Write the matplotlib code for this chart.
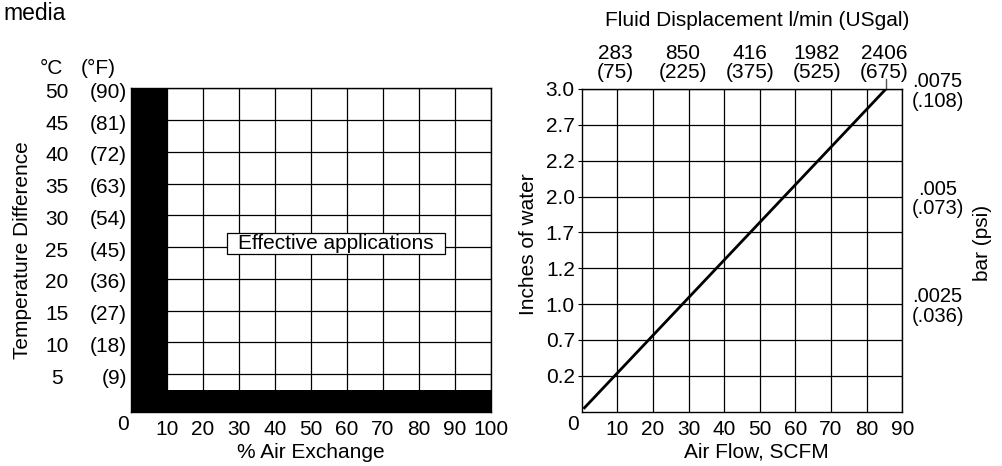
import matplotlib
matplotlib.use("Agg")
import matplotlib.pyplot as plt
from matplotlib.transforms import blended_transform_factory, offset_copy, IdentityTransform
from matplotlib.patches import Rectangle

plt.rcParams['font.family'] = ['Liberation Sans', 'DejaVu Sans']
FS = 15

# ---------------- Left chart data ----------------
air_exchange_ticks = [10, 20, 30, 40, 50, 60, 70, 80, 90, 100]
temp_c = [50, 45, 40, 35, 30, 25, 20, 15, 10, 5]
temp_f = [90, 81, 72, 63, 54, 45, 36, 27, 18, 9]
ineffective_x = 10      # % air exchange below which not effective
ineffective_dt = 2.5    # deg C difference below which not effective
effective_label_pos = (57, 25.5)

# ---------------- Right chart data ----------------
airflow_ticks = [10, 20, 30, 40, 50, 60, 70, 80, 90]
pressure_in_labels = ["0.2", "0.7", "1.0", "1.2", "1.7", "2.0", "2.2", "2.7", "3.0"]
line_airflow = [0.5, 85.4]
line_level = [0.08, 9.0]          # row position on the pressure scale
disp_lpm = ["283", "850", "416", "1982", "2406"]
disp_gal = [75, 225, 375, 525, 675]
gal_per_scfm = 7.95
bar_vals = [".0075", ".005", ".0025"]
psi_vals = [".108", ".073", ".036"]
bar_at = ["3.0", "2.0", "1.0"]

W, H = 1003, 466
fig = plt.figure(figsize=(W / 100, H / 100), dpi=100)

def px(l, t, r, b):
    return [l / W, 1 - b / H, (r - l) / W, (b - t) / H]

# ================= LEFT =================
ax = fig.add_axes(px(130.7, 88.3, 490.7, 411.7))
ax.set_xlim(0, 100)
ax.set_ylim(-0.9, 50)
ax.set_xticks(air_exchange_ticks)
ax.set_xticklabels([str(v) for v in air_exchange_ticks], fontsize=FS)
ax.set_yticks(temp_c)
ax.tick_params(axis='y', length=0, labelleft=False)
ax.tick_params(axis='x', length=0, pad=6)
ax.grid(True, color='black', linewidth=0.9)
ax.set_axisbelow(True)
for s in ax.spines.values():
    s.set_linewidth(1.0)
ax.axvspan(0, ineffective_x, color='black', zorder=2, lw=0)
ax.axhspan(-0.9, ineffective_dt, color='black', zorder=2, lw=0)

bt = blended_transform_factory(ax.transAxes, ax.transData)
bt = offset_copy(bt, fig=fig, x=0, y=-4, units='dots')
for c, f in zip(temp_c, temp_f):
    ax.text(-0.205, c, str(c), transform=bt, ha='center', va='center', fontsize=FS)
    ax.text(-0.010, c, f"({f})", transform=bt, ha='right', va='center', fontsize=FS)
fig.text(51.5 / W, 1 - 68 / H, "°C", ha='center', va='center', fontsize=FS)
fig.text(98.5 / W, 1 - 68 / H, "(°F)", ha='center', va='center', fontsize=FS)
ax.text(-0.021, -0.041, "0", transform=ax.transAxes, ha='center', va='center', fontsize=FS)

ax.set_ylabel("Temperature Difference", fontsize=FS)
ax.yaxis.set_label_coords(-0.3, 0.5)
ax.set_xlabel("% Air Exchange", fontsize=FS)
ax.xaxis.set_label_coords(0.5, -0.125)
ax.xaxis.label.set_va('center')
ax.yaxis.label.set_va('center')

eff = ax.text(*effective_label_pos, "Effective applications", ha='center', va='center',
              fontsize=FS, zorder=6)

fig.text(3 / W, 1 - 13 / H, "media", ha='left', va='center', fontsize=16.5)

# ================= RIGHT =================
ax2 = fig.add_axes(px(581.7, 89, 902.3, 411.7))
ax2.set_xlim(0, 90)
ax2.set_ylim(0, 9)
ax2.set_xticks(airflow_ticks)
ax2.set_xticklabels([str(v) for v in airflow_ticks], fontsize=FS)
ypos = list(range(1, len(pressure_in_labels) + 1))
ax2.set_yticks(ypos)
ax2.set_yticklabels(pressure_in_labels, fontsize=FS)
ax2.tick_params(axis='x', length=0, pad=6)
ax2.tick_params(axis='y', length=3, pad=2)
ax2.grid(True, color='black', linewidth=0.9)
ax2.set_axisbelow(True)
for s in ax2.spines.values():
    s.set_linewidth(1.0)
ax2.plot(line_airflow, line_level, color='black', linewidth=2.0, zorder=4,
         solid_capstyle='butt')
ax2.plot([line_airflow[-1], line_airflow[-1]], [line_level[-1], line_level[-1] + 0.28],
         color='#555555', linewidth=1.0, clip_on=False)
ax2.text(-0.027, -0.041, "0", transform=ax2.transAxes, ha='center', va='center', fontsize=FS)
ax2.set_ylabel("Inches of water", fontsize=FS)
ax2.yaxis.set_label_coords((528 - 581.7) / 320.6, 0.52)
ax2.yaxis.label.set_va('center')
ax2.set_xlabel("Air Flow, SCFM", fontsize=FS)
ax2.xaxis.set_label_coords((756 - 581.7) / 320.6, -0.125)
ax2.xaxis.label.set_va('center')

# top axis: fluid displacement
top = ax2.twiny()
top.set_xlim(0, 90 * gal_per_scfm)
top.set_xticks(disp_gal)
top.set_xticklabels([f"{l}\n({g})" for l, g in zip(disp_lpm, disp_gal)], fontsize=FS,
                    linespacing=1.0)
top.tick_params(axis='x', length=0, pad=5)
for s in top.spines.values():
    s.set_visible(False)
fig.text(757 / W, 1 - 20 / H, "Fluid Displacement l/min (USgal)", ha='center',
         va='center', fontsize=FS)

# right axis: bar (psi)
rt = ax2.twinx()
rt.set_ylim(0, 9)
rt.set_yticks([pressure_in_labels.index(b) + 1 for b in bar_at])
rt.set_yticklabels([f"{b}\n({p})" for b, p in zip(bar_vals, psi_vals)], fontsize=14.5,
                   linespacing=1.05)
for t in rt.get_yticklabels():
    t.set_multialignment('center')
rt.tick_params(axis='y', length=0, pad=6.5)
for s in rt.spines.values():
    s.set_visible(False)
rt.set_ylabel("bar (psi)", fontsize=15)
rt.yaxis.set_label_coords((983 - 581.7) / 320.6, (411.7 - 243) / 322.7)
rt.yaxis.label.set_va('center')

# box around "Effective applications"
fig.canvas.draw()
bb = eff.get_window_extent(renderer=fig.canvas.get_renderer())
rect = Rectangle((bb.x0 - 11, bb.y0 - 1), bb.width + 22, bb.height + 2,
                 transform=IdentityTransform(), facecolor='white', edgecolor='black',
                 linewidth=0.9, zorder=5, clip_on=False)
ax.add_patch(rect)

fig.savefig("out.png", dpi=100)
